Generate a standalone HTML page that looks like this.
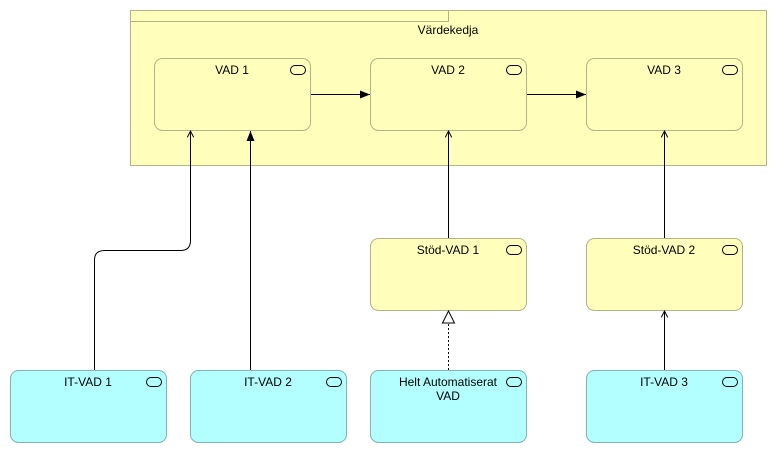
<!DOCTYPE html>
<html><head><meta charset="utf-8"><style>
html,body{margin:0;padding:0;background:#fff;}
svg{display:block;}
text{font-family:"Liberation Sans",sans-serif;font-size:12px;fill:#000;}
</style></head><body>
<svg width="777" height="453" viewBox="0 0 777 453" xmlns="http://www.w3.org/2000/svg">
<defs>
<marker id="open" viewBox="0 0 10 10" refX="9" refY="5" markerWidth="8" markerHeight="8" orient="auto" markerUnits="userSpaceOnUse">
<path d="M1,1 L9,5 L1,9" fill="none" stroke="#000" stroke-width="1.2"/></marker>
<marker id="fill" viewBox="0 0 10 10" refX="10" refY="5" markerWidth="10" markerHeight="10" orient="auto" markerUnits="userSpaceOnUse">
<path d="M0,1 L10,5 L0,9 Z" fill="#000"/></marker>
<marker id="tri" viewBox="0 0 14 14" refX="13" refY="7" markerWidth="14" markerHeight="14" orient="auto" markerUnits="userSpaceOnUse">
<path d="M1,1 L13,7 L1,13 Z" fill="#fff" stroke="#000" stroke-width="1"/></marker>
<g id="pill"><rect x="0" y="0" width="15" height="9" rx="4.5" fill="none" stroke="#000" stroke-width="1"/></g>
</defs>
<rect x="130.5" y="10.5" width="636" height="155" fill="#ffffbb" stroke="#b3b38a"/>
<rect x="130.5" y="10.5" width="318" height="11" fill="#ffffbb" stroke="#b3b38a"/>
<text x="448" y="34" text-anchor="middle">Värdekedja</text>

<g stroke="#b3b38a" fill="#ffffbb">
<rect x="154.5" y="58.5" width="156" height="72" rx="8"/>
<rect x="370.5" y="58.5" width="156" height="72" rx="8"/>
<rect x="586.5" y="58.5" width="156" height="72" rx="8"/>
<rect x="370.5" y="238.5" width="156" height="72" rx="8"/>
<rect x="586.5" y="238.5" width="156" height="72" rx="8"/>
</g>
<g stroke="#80b3b3" fill="#b3ffff">
<rect x="10.5" y="370.5" width="156" height="72" rx="8"/>
<rect x="190.5" y="370.5" width="156" height="72" rx="8"/>
<rect x="370.5" y="370.5" width="156" height="72" rx="8"/>
<rect x="586.5" y="370.5" width="156" height="72" rx="8"/>
</g>
<use href="#pill" x="290.5" y="65.5"/>
<use href="#pill" x="506.5" y="65.5"/>
<use href="#pill" x="722.5" y="65.5"/>
<use href="#pill" x="506.5" y="245.5"/>
<use href="#pill" x="722.5" y="245.5"/>
<use href="#pill" x="146.5" y="377.5"/>
<use href="#pill" x="326.5" y="377.5"/>
<use href="#pill" x="506.5" y="377.5"/>
<use href="#pill" x="722.5" y="377.5"/>

<text x="232" y="74" text-anchor="middle">VAD 1</text>
<text x="448" y="74" text-anchor="middle">VAD 2</text>
<text x="664" y="74" text-anchor="middle">VAD 3</text>
<text x="448" y="254" text-anchor="middle">Stöd-VAD 1</text>
<text x="664" y="254" text-anchor="middle">Stöd-VAD 2</text>
<text x="88" y="386" text-anchor="middle">IT-VAD 1</text>
<text x="268" y="386" text-anchor="middle">IT-VAD 2</text>
<text x="448" y="386" text-anchor="middle">Helt Automatiserat</text>
<text x="448" y="400" text-anchor="middle">VAD</text>
<text x="664" y="386" text-anchor="middle">IT-VAD 3</text>

<g stroke="#000" stroke-width="1" fill="none">
<line x1="311" y1="94.5" x2="370" y2="94.5" marker-end="url(#fill)"/>
<line x1="527" y1="94.5" x2="586" y2="94.5" marker-end="url(#fill)"/>
<line x1="250.5" y1="370" x2="250.5" y2="131" marker-end="url(#fill)"/>
<path d="M94.5,370 L94.5,260 Q94.5,250.5 104.5,250.5 L180.5,250.5 Q190.5,250.5 190.5,240.5 L190.5,131" marker-end="url(#open)"/>
<line x1="448.5" y1="238" x2="448.5" y2="131" marker-end="url(#open)"/>
<line x1="664.5" y1="238" x2="664.5" y2="131" marker-end="url(#open)"/>
<line x1="664.5" y1="370" x2="664.5" y2="311" marker-end="url(#open)"/>
<line x1="448.5" y1="370" x2="448.5" y2="311" stroke-dasharray="2,2" marker-end="url(#tri)"/>
</g>
</svg>
</body></html>
